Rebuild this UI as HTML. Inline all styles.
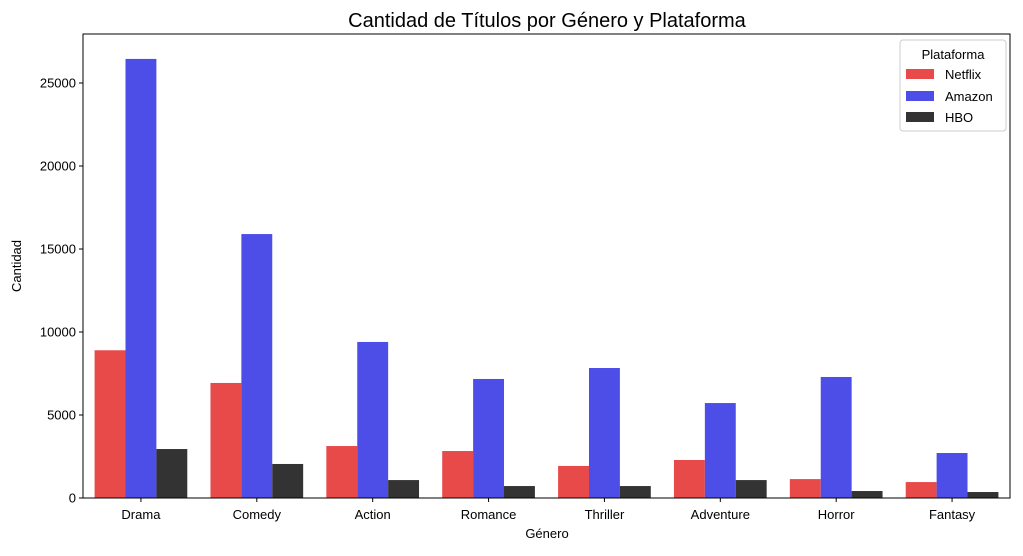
<!DOCTYPE html>
<html><head><meta charset="utf-8"><style>
body{margin:0;background:#fff;font-family:"Liberation Sans",sans-serif}
</style></head><body>
<svg id="chart" width="1023" height="551" xmlns="http://www.w3.org/2000/svg" font-family="Liberation Sans, sans-serif">
<rect width="1023" height="551" fill="#fff"/>
<text x="547" y="27" text-anchor="middle" font-size="20">Cantidad de Títulos por Género y Plataforma</text>
<g id="bars"></g>
<g id="axes"></g>
<text x="547" y="538" text-anchor="middle" font-size="13">Género</text>
<text transform="translate(21,266) rotate(-90)" text-anchor="middle" font-size="13">Cantidad</text>
<g>
<rect x="900" y="40" width="106" height="91" fill="#fff" stroke="#ccc" rx="3"/>
<text x="953" y="59" text-anchor="middle" font-size="13">Plataforma</text>
<rect x="906" y="69" width="28" height="10" fill="#e84a4a"/>
<text x="945" y="79" font-size="13">Netflix</text>
<rect x="906" y="91" width="28" height="10" fill="#4d4de8"/>
<text x="945" y="101" font-size="13">Amazon</text>
<rect x="906" y="112" width="28" height="10" fill="#333"/>
<text x="945" y="122" font-size="13">HBO</text>
</g>
</svg>
<script>
const categories=["Drama","Comedy","Action","Romance","Thriller","Adventure","Horror","Fantasy"];
const netflix=[8900,6930,3130,2830,1930,2290,1140,960];
const amazon=[26450,15900,9400,7170,7830,5720,7290,2710];
const hbo=[2950,2050,1080,720,720,1080,420,360];
const yTicks=[0,5000,10000,15000,20000,25000];
const NS="http://www.w3.org/2000/svg";
const L=83,R=1010,T=34,B=498;
const y=v=>B-v*0.0166;
const band=(R-L)/categories.length;
const x=i=>L+band*i+band/2;
const bw=band*0.8/3;
const bars=document.getElementById('bars'),axes=document.getElementById('axes');
function mk(t,a,p){const e=document.createElementNS(NS,t);for(const k in a)e.setAttribute(k,a[k]);p.appendChild(e);return e;}
const series=[[netflix,"#e84a4a","netflix"],[amazon,"#4d4de8","amazon"],[hbo,"#333333","hbo"]];
categories.forEach((c,i)=>{
 series.forEach((s,j)=>{
  const r=mk('rect',{x:x(i)-1.5*bw+j*bw,y:y(s[0][i]),width:bw,height:B-y(s[0][i]),fill:s[1]},bars);
  
  
 });
 mk('line',{x1:x(i),x2:x(i),y1:B,y2:B+4,stroke:'#000'},axes);
 const t=mk('text',{x:x(i),y:B+21,'text-anchor':'middle','font-size':13},axes);t.textContent=c;
 
 
});
yTicks.forEach(v=>{
 mk('line',{x1:L-4,x2:L,y1:y(v),y2:y(v),stroke:'#000'},axes);
 const t=mk('text',{x:L-7,y:y(v)+4.5,'text-anchor':'end','font-size':13},axes);t.textContent=v;
 
 
});
mk('rect',{x:L,y:T,width:R-L,height:B-T,fill:'none',stroke:'#000','stroke-width':1},axes);
</script>
</body></html>
